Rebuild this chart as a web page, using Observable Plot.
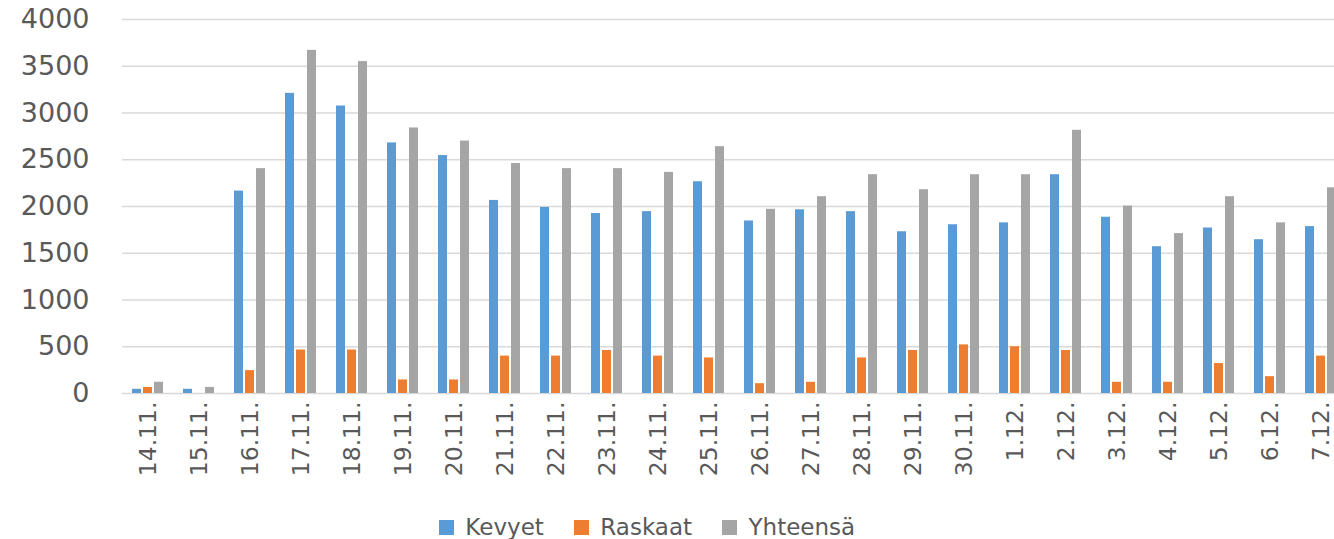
<!DOCTYPE html>
<html><head><meta charset="utf-8">
<script src="https://cdn.jsdelivr.net/npm/d3@7"></script>
<script src="https://cdn.jsdelivr.net/npm/@observablehq/plot@0.6"></script>
<style>
html,body{margin:0;padding:0;background:#fff;overflow:hidden;}
#wrap{width:1334px;height:539px;overflow:hidden;position:relative;background:#fff;}
#wrap svg{max-width:none !important;display:block;}
.lg-swatches{justify-content:center;padding-right:10px;}
.lg-swatch{margin-right:30px !important;}
</style></head><body><div id="wrap"></div>
<script>
const dates = ["14.11.","15.11.","16.11.","17.11.","18.11.","19.11.","20.11.","21.11.","22.11.","23.11.","24.11.","25.11.","26.11.","27.11.","28.11.","29.11.","30.11.","1.12.","2.12.","3.12.","4.12.","5.12.","6.12.","7.12."];
const seriesNames = ["Kevyet","Raskaat","Yhteensä"];
const kevyet   = [45, 45, 2165, 3210, 3075, 2680, 2545, 2065, 1990, 1925, 1945, 2265, 1845, 1965, 1945, 1730, 1805, 1825, 2340, 1885, 1570, 1770, 1645, 1785];
const raskaat  = [65, 0, 245, 465, 465, 145, 145, 400, 400, 460, 400, 380, 105, 120, 380, 460, 520, 500, 460, 120, 120, 320, 180, 400];
const yhteensa = [120, 65, 2405, 3670, 3550, 2840, 2700, 2460, 2405, 2405, 2365, 2640, 1970, 2105, 2340, 2180, 2340, 2340, 2815, 2005, 1710, 2105, 1825, 2200];
const yTicks = [0, 500, 1000, 1500, 2000, 2500, 3000, 3500, 4000];
const colors = ["#5b9bd5", "#ed7d31", "#a5a5a5"];

const seriesValues = [kevyet, raskaat, yhteensa];
const rows = [];
dates.forEach((d, i) => {
  seriesNames.forEach((s, j) => rows.push({date: d, series: s, value: seriesValues[j][i]}));
});

const chart = Plot.plot({
  width: 1360,
  height: 510,
  marginLeft: 116,
  marginRight: 8,
  marginTop: 19,
  marginBottom: 117,
  style: "font-family: 'DejaVu Sans', sans-serif; color: #595959; background: white; max-width: none;",
  fx: {domain: dates, paddingInner: 0, paddingOuter: 0, label: null},
  x: {domain: seriesNames, axis: null, paddingInner: 0.174, paddingOuter: 0.826},
  y: {domain: [0, 4000], label: null},
  color: {domain: seriesNames, range: colors},
  marks: [
    Plot.ruleY(yTicks, {stroke: "#d9d9d9", strokeWidth: 1.6}),
    Plot.barY(rows, {fx: "date", x: "series", y: "value", fill: "series"}),
    Plot.axisY({ticks: yTicks, tickFormat: "d", tickSize: 0, tickPadding: 33, fontSize: 27, fill: "#595959", label: null}),
    Plot.axisFx({anchor: "bottom", tickRotate: -90, tickSize: 0, tickPadding: 8, fontSize: 23.5, fill: "#595959", label: null})
  ]
});
document.getElementById("wrap").appendChild(chart);

const legend = chart.legend("color", {
  swatchSize: 15,
  className: "lg",
  style: "font-family: 'DejaVu Sans', sans-serif; font-size: 23px; color: #595959; min-height: 34px;"
});
document.getElementById("wrap").appendChild(legend);
</script>
</body></html>
